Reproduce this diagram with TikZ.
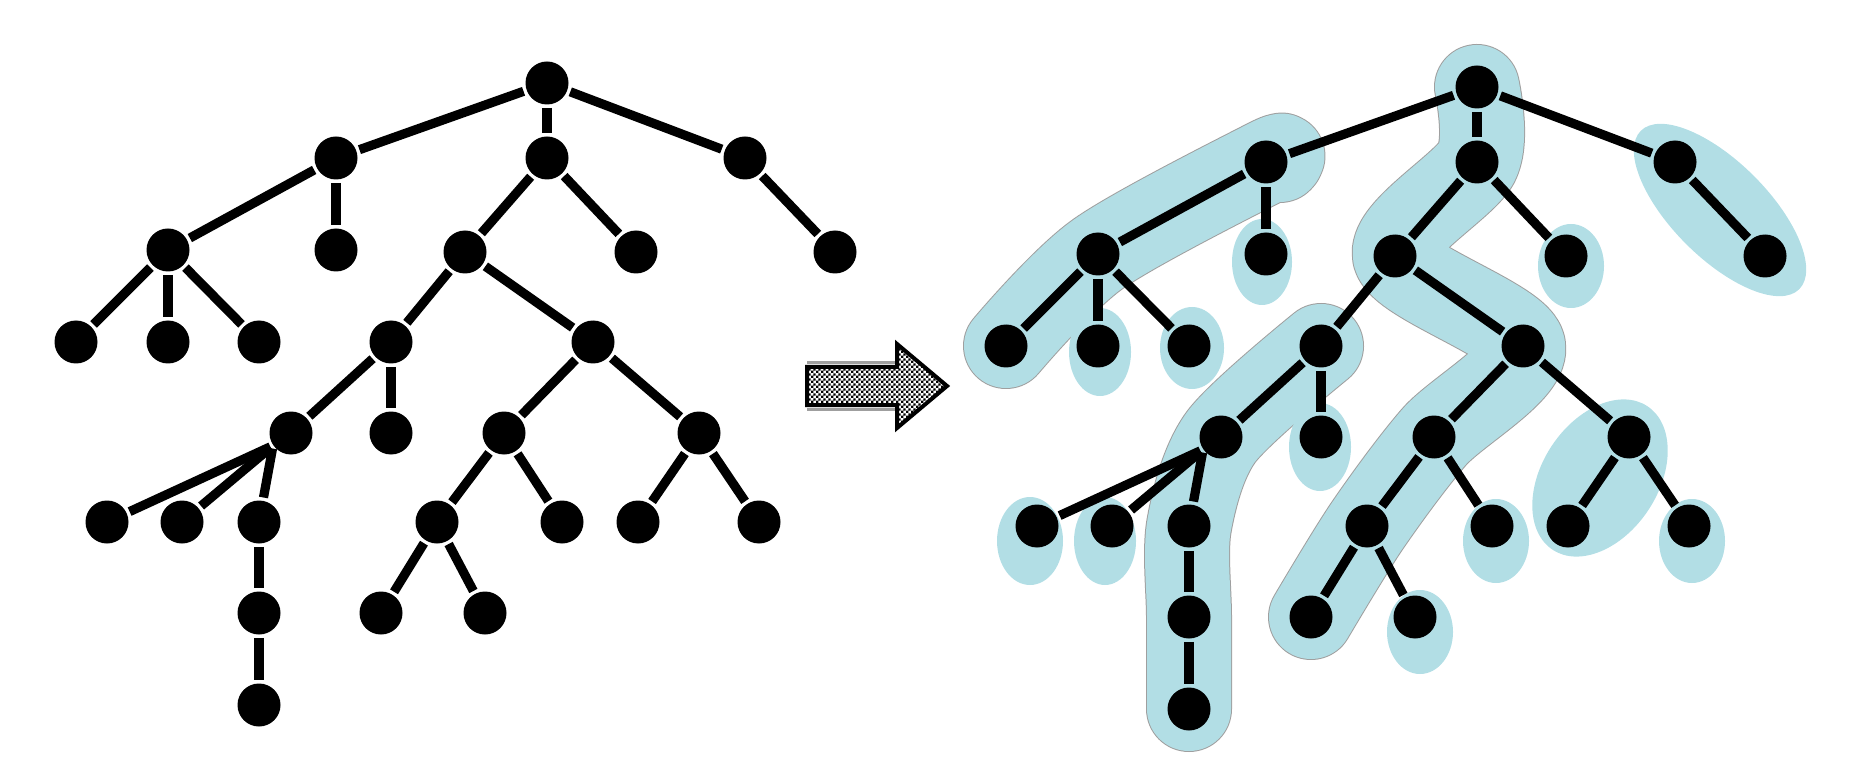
\documentclass[tikz,border=0pt]{standalone}
\usepackage{tikz}
\usetikzlibrary{patterns}
\usetikzlibrary{backgrounds}

\definecolor{paleblue}{RGB}{178,222,229}

\pgfdeclarepatternformonly{finechecks}{\pgfpointorigin}{\pgfqpoint{2.4pt}{2.4pt}}{\pgfqpoint{2.4pt}{2.4pt}}{%
  \pgfpathrectangle{\pgfpointorigin}{\pgfqpoint{1.2pt}{1.2pt}}%
  \pgfpathrectangle{\pgfqpoint{1.2pt}{1.2pt}}{\pgfqpoint{1.2pt}{1.2pt}}%
  \pgfusepath{fill}}

\tikzset{
  vtx/.style={circle, fill=black, inner sep=0pt, minimum size=21.5pt},
  edge/.style={line width=4.6pt, shorten <=1.5pt, shorten >=1.5pt},
  chain/.style={draw=gray!75, line width=0.5pt, double=paleblue, double distance=42pt,
                line cap=round, line join=round},
  spot/.style={fill=paleblue},
}

% one tree, #1 = prefix of the node names
\newcommand{\drawtree}[1]{%
    \node[vtx] (#1r) at (547,83) {};

    \node[vtx] (#1a) at (336,158) {};
    \node[vtx] (#1b) at (547,158) {};
    \node[vtx] (#1c) at (745,158) {};

    \node[vtx] (#1a1) at (168,250) {};
    \node[vtx] (#1a2) at (336,250) {};
    \node[vtx] (#1b1) at (465,252) {};
    \node[vtx] (#1b2) at (636,252) {};
    \node[vtx] (#1c1) at (835,252) {};

    \node[vtx] (#1a1a) at (76,342) {};
    \node[vtx] (#1a1b) at (168,342) {};
    \node[vtx] (#1a1c) at (259,342) {};
    \node[vtx] (#1d) at (391,342) {};
    \node[vtx] (#1e) at (593,342) {};

    \node[vtx] (#1d1) at (291,433) {};
    \node[vtx] (#1d2) at (391,433) {};
    \node[vtx] (#1e1) at (504,433) {};
    \node[vtx] (#1e2) at (699,433) {};

    \node[vtx] (#1d1a) at (107,522) {};
    \node[vtx] (#1d1b) at (182,522) {};
    \node[vtx] (#1d1c) at (259,522) {};
    \node[vtx] (#1e1a) at (437,522) {};
    \node[vtx] (#1e1b) at (562,522) {};
    \node[vtx] (#1e2a) at (638,522) {};
    \node[vtx] (#1e2b) at (759,522) {};

    \node[vtx] (#1f1) at (259,613) {};
    \node[vtx] (#1f2) at (259,705) {};
    \node[vtx] (#1e1aa) at (381,613) {};
    \node[vtx] (#1e1ab) at (485,613) {};

    \draw[edge] (#1r) -- (#1a);
    \draw[edge] (#1r) -- (#1b);
    \draw[edge] (#1r) -- (#1c);
    \draw[edge] (#1a) -- (#1a1);
    \draw[edge] (#1a) -- (#1a2);
    \draw[edge] (#1b) -- (#1b1);
    \draw[edge] (#1b) -- (#1b2);
    \draw[edge] (#1c) -- (#1c1);
    \draw[edge] (#1a1) -- (#1a1a);
    \draw[edge] (#1a1) -- (#1a1b);
    \draw[edge] (#1a1) -- (#1a1c);
    \draw[edge] (#1b1) -- (#1d);
    \draw[edge] (#1b1) -- (#1e);
    \draw[edge] (#1d) -- (#1d1);
    \draw[edge] (#1d) -- (#1d2);
    \draw[edge] (#1e) -- (#1e1);
    \draw[edge] (#1e) -- (#1e2);
    \draw[edge] (#1d1.215) -- (#1d1a);
    \draw[edge] (#1d1.215) -- (#1d1b);
    \draw[edge] (#1d1.215) -- (#1d1c);
    \draw[edge] (#1d1c) -- (#1f1);
    \draw[edge] (#1f1) -- (#1f2);
    \draw[edge] (#1e1) -- (#1e1a);
    \draw[edge] (#1e1) -- (#1e1b);
    \draw[edge] (#1e2) -- (#1e2a);
    \draw[edge] (#1e2) -- (#1e2b);
    \draw[edge] (#1e1a) -- (#1e1aa);
    \draw[edge] (#1e1a) -- (#1e1ab);
}

\begin{document}
\begin{tikzpicture}[x=0.5pt, y=-0.5pt]
    \useasboundingbox (0,0) rectangle (1856,764);

    \drawtree{l}

    \begin{scope}[shift={(930,4)}]
        \drawtree{r}
    \end{scope}

    % the paths of the right tree
    \begin{scope}[on background layer]
        \draw[chain] plot[smooth] coordinates {(rr.center) (rb.center) (rb1.center) (re.center) (re1.center) (re1a.center) (re1aa.center)};
        \draw[chain] plot[smooth] coordinates {(ra1a.center) (ra1.center) (ra.center) (1280,160)};
        \draw[chain] plot[smooth] coordinates {(rd.center) (rd1.center) (rd1c.center) (rf1.center) (rf2.center)};

        \fill[spot, rotate around={-45:(1720,210)}] (1720,210) ellipse [x radius=56pt, y radius=24pt];
        \fill[spot, rotate around={56.6:(1600,478)}] (1600,478) ellipse [x radius=43pt, y radius=29pt];

        \fill[spot] (1262,262) ellipse [x radius=15pt, y radius=21.5pt];
        \fill[spot] (1100,352) ellipse [x radius=15.5pt, y radius=22pt];
        \fill[spot] (1192,348) ellipse [x radius=16pt, y radius=20.5pt];
        \fill[spot] (1571,266) ellipse [x radius=16.5pt, y radius=21pt];
        \fill[spot] (1320,447) ellipse [x radius=15.5pt, y radius=22pt];
        \fill[spot] (1030,541) ellipse [x radius=16.5pt, y radius=22pt];
        \fill[spot] (1105,541) ellipse [x radius=15.5pt, y radius=22pt];
        \fill[spot] (1496,541) ellipse [x radius=16.5pt, y radius=21pt];
        \fill[spot] (1692,541) ellipse [x radius=16.5pt, y radius=21pt];
        \fill[spot] (1420,632) ellipse [x radius=16.5pt, y radius=21pt];
    \end{scope}

    % block arrow
    \draw[gray!75, line width=1.5pt] (807,363) -- (896,363) (807,409) -- (896,409);
    \draw[line width=2pt, preaction={fill=white}, pattern=finechecks]
        (807,367) -- (897,367) -- (897,344) -- (947,386) -- (897,428) -- (897,405) -- (807,405) -- cycle;

\end{tikzpicture}
\end{document}
